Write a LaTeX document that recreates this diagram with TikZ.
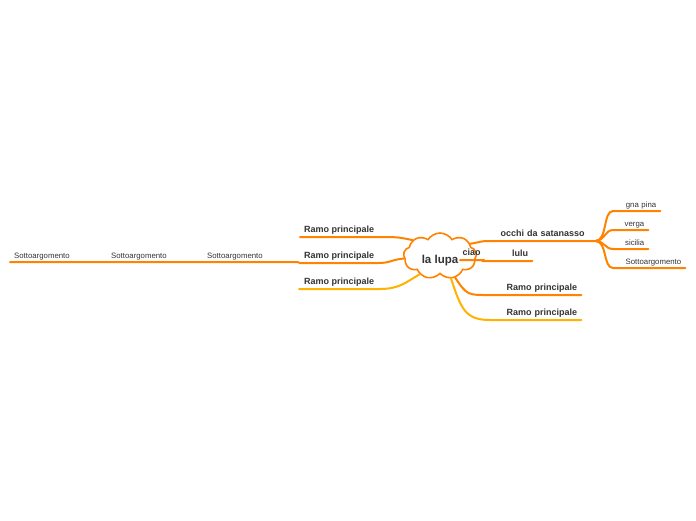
\documentclass[tikz,border=0pt]{standalone}
\usepackage{fontspec}
\setmainfont{Liberation Sans}
\usepackage{xcolor}
\usetikzlibrary{shapes.symbols}
\definecolor{mindOrange}{HTML}{FF8200}
\definecolor{mindYellow}{HTML}{FFB200}
\definecolor{mindInk}{HTML}{333333}
\tikzset{
  centre/.style={
    cloud,
    cloud puffs=9,
    cloud puff arc=115,
    cloud ignores aspect,
    draw=mindOrange,
    fill=white,
    line width=1.6pt,
    minimum width=73pt,
    minimum height=46pt,
    inner sep=0pt,
    text height=14pt,
    text depth=0pt,
    text=mindInk,
    font=\fontsize{11.5}{13}\selectfont\bfseries
  },
  topic/.style={
    anchor=south west,
    inner xsep=4pt,
    inner ysep=4.5pt,
    text depth=0pt,
    text=mindInk,
    font=\fontsize{9}{11}\selectfont\bfseries
  },
  subtopic/.style={
    anchor=south west,
    inner xsep=4pt,
    inner ysep=3.5pt,
    text depth=0pt,
    text=mindInk,
    font=\fontsize{7.8}{9}\selectfont
  },
  branch/.style={
    line width=2pt,
    draw=mindOrange,
    line cap=round
  },
  branchLight/.style={
    line width=2pt,
    draw=mindYellow,
    line cap=round
  }
}

\begin{document}
\begin{tikzpicture}[x=1pt,y=-1pt]
  \useasboundingbox (0,0) rectangle (696,520);

  \node[centre] (lupa) at (440,256) {la lupa};

  % right side
  \node[topic,text width=97pt,align=center] (occhi) at (490,241) {occhi da satanasso};
  \node[topic,inner xsep=0pt,minimum width=23pt] (ciao) at (460,260) {ciao};
  \node[topic,text width=41pt,align=right] (lulu) at (483,261) {lulu};
  \node[topic,text width=83pt,align=right] (ramoD) at (490,295) {Ramo principale};
  \node[topic,text width=83pt,align=right] (ramoE) at (490,320) {Ramo principale};

  \node[subtopic,text width=39pt,align=right] (gna) at (613,211) {gna pina};
  \node[subtopic,text width=27pt,align=right] (verga) at (613,230) {verga};
  \node[subtopic,text width=27pt,align=right] (sicilia) at (613,249) {sicilia};
  \node[subtopic,text width=64pt,align=right] (sottoD) at (613,268) {Sottoargomento};

  % left side
  \node[topic] (ramoA) at (300,237) {Ramo principale};
  \node[topic] (ramoB) at (300,263) {Ramo principale};
  \node[topic,inner xsep=5pt] (ramoC) at (299,289) {Ramo principale};

  \node[subtopic,text width=86pt,align=left] (sottoC) at (203,262) {Sottoargomento};
  \node[subtopic,text width=86pt,align=left] (sottoB) at (107,262) {Sottoargomento};
  \node[subtopic,text width=86pt,align=left] (sottoA) at (10,262) {Sottoargomento};

  % connectors
  \draw[branch] (lupa.22) .. controls +(12,-2) and +(-10,0) .. (occhi.south west) -- (occhi.south east);
  \draw[branch] (ciao.south west) -- (ciao.south east) -- (lulu.south west) -- (lulu.south east);
  \draw[branch] (lupa.305) .. controls +(12,18) and +(-22,0) .. (ramoD.south west) -- (ramoD.south east);
  \draw[branchLight] (lupa.296) .. controls +(10,30) and +(-25,0) .. (ramoE.south west) -- (ramoE.south east);

  \draw[branch] (occhi.south east) .. controls +(12,0) and +(-10,0) .. (gna.south west) -- (gna.south east);
  \draw[branch] (occhi.south east) .. controls +(9,0) and +(-8,0) .. (verga.south west) -- (verga.south east);
  \draw[branch] (occhi.south east) .. controls +(9,0) and +(-8,0) .. (sicilia.south west) -- (sicilia.south east);
  \draw[branch] (occhi.south east) .. controls +(12,0) and +(-10,0) .. (sottoD.south west) -- (sottoD.south east);

  \draw[branch] (ramoA.south west) -- (ramoA.south east) .. controls +(18,0) and +(-14,-3) .. (lupa.150);
  \draw[branch] (ramoB.south west) -- (ramoB.south east) .. controls +(12,0) and +(-12,1) .. (lupa.184);
  \draw[branchLight] (ramoC.south west) -- (ramoC.south east) .. controls +(20,0) and +(-14,8) .. (lupa.222);

  \draw[branch] (ramoB.south west) -- (sottoC.south east) -- (sottoC.south west)
    -- (sottoB.south east) -- (sottoB.south west)
    -- (sottoA.south east) -- (sottoA.south west);
\end{tikzpicture}
\end{document}
